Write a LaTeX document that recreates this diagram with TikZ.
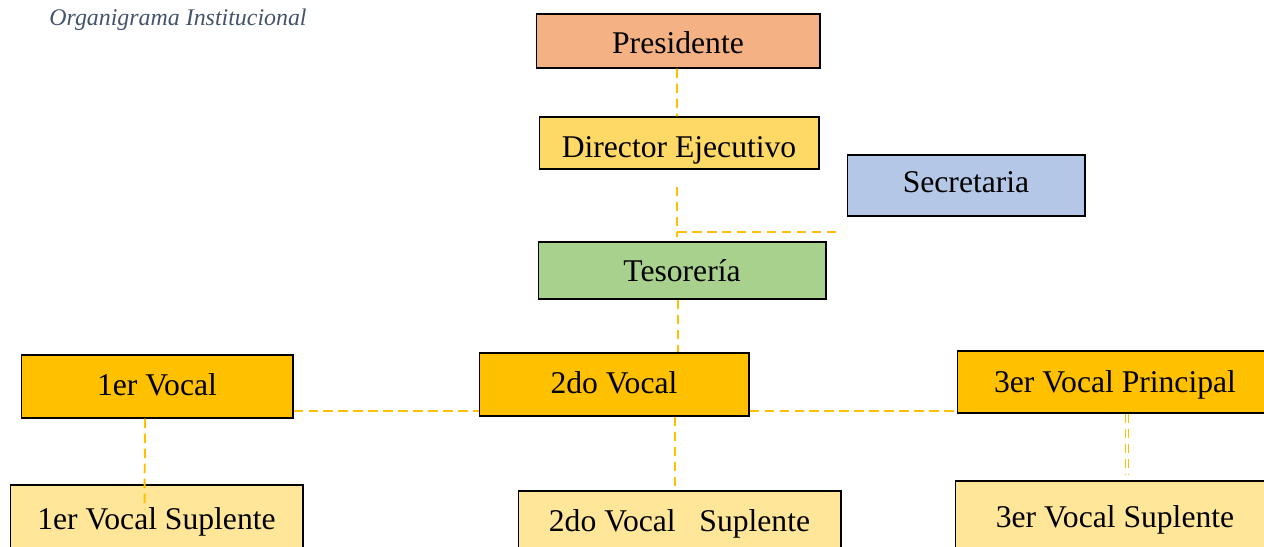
\documentclass[tikz,border=0pt]{standalone}
\usepackage{fontspec}
\setmainfont{Liberation Serif}
\usepackage{xcolor}
\definecolor{salmon}{HTML}{F4B183}
\definecolor{oroclaro}{HTML}{FFD966}
\definecolor{celeste}{HTML}{B4C7E7}
\definecolor{verde}{HTML}{A9D18E}
\definecolor{ambar}{HTML}{FFC000}
\definecolor{crema}{HTML}{FFE699}
\definecolor{pizarra}{HTML}{44546A}
\usepackage{tikz}
\tikzset{
  cargo/.style={
    rectangle, draw=black, line width=0.6pt, inner sep=0pt,
    text depth=0pt, text height=11pt,
    text centered, font=\fontsize{18}{20}\selectfont
  },
  vocal/.style={cargo, fill=ambar, text height=9.7pt},
  suplente/.style={cargo, fill=crema},
  link/.style={line width=1.1pt, color=ambar, dash pattern=on 0.19cm off 0.11cm},
}

\begin{document}
\begin{tikzpicture}[x=0.02cm, y=-0.02cm]
  \useasboundingbox (0,0) rectangle (1264,547);

  \node (titulo) at (178,20) [font=\fontsize{13.6}{15}\selectfont\itshape, text=pizarra] {Organigrama Institucional};

  \node (pres) [cargo, fill=salmon,   minimum width=5.68cm, minimum height=1.08cm, text height=13.7pt] at (678,41)    {Presidente};
  \node (dir)  [cargo, fill=oroclaro, minimum width=5.6cm,  minimum height=1.04cm, text height=16pt]   at (679,143)   {Director Ejecutivo};
  \node (sec)  [cargo, fill=celeste,  minimum width=4.76cm, minimum height=1.22cm, text height=8.5pt]  at (966,185.5) {Secretaria};
  \node (tes)  [cargo, fill=verde,    minimum width=5.76cm, minimum height=1.14cm, text height=13pt]   at (682,270.5) {Tesorería};

  \node (v1) [vocal, minimum width=5.44cm, minimum height=1.26cm] at (157,386.5)  {1er Vocal};
  \node (v2) [vocal, minimum width=5.4cm,  minimum height=1.26cm] at (614,384.5)  {2do Vocal};
  \node (v3) [vocal, minimum width=6.32cm, minimum height=1.24cm, text height=12.5pt] at (1115,382) {3er Vocal Principal};

  \node (s1) [suplente, minimum width=5.86cm, minimum height=1.4cm]  at (156.5,520) {1er Vocal Suplente};
  \node (s2) [suplente, minimum width=6.46cm, minimum height=1.32cm, text height=8.8pt] at (679.5,524) {2do Vocal\ \ \ Suplente};
  \node (s3) [suplente, minimum width=6.4cm,  minimum height=1.48cm] at (1115,518)  {3er Vocal Suplente};

  \coordinate (dirgap) at (677,187);
  \coordinate (nudo)   at (677,232);
  \coordinate (secend) at (838,232);
  \coordinate (eje)    at (0,411);

  \draw [link] ([xshift=-0.02cm]pres.south) -- ([xshift=-0.04cm]dir.north);
  \draw [link] (dirgap) -- ([yshift=0.08cm]nudo |- tes.north);
  \draw [link] (nudo) -- (secend);
  \draw [link] ([xshift=-0.08cm]tes.south) -- ([xshift=-0.08cm]tes.south |- v2.north);
  \draw [link] (v1.east |- eje) -- (v2.west |- eje);
  \draw [link] (v2.east |- eje) -- (v3.west |- eje);
  \draw [link] ([xshift=-0.24cm]v1.south) -- ([xshift=-0.24cm, yshift=-0.5cm]s1.north);
  \draw [link] ([xshift=-0.09cm]v2.south -| s2.north) -- ([xshift=-0.09cm]s2.north);
  \draw [link, line width=0.5pt, double=white, double distance=0.9pt] ([xshift=0.24cm]v3.south) -- ([xshift=0.24cm, yshift=0.12cm]s3.north);
\end{tikzpicture}
\end{document}
